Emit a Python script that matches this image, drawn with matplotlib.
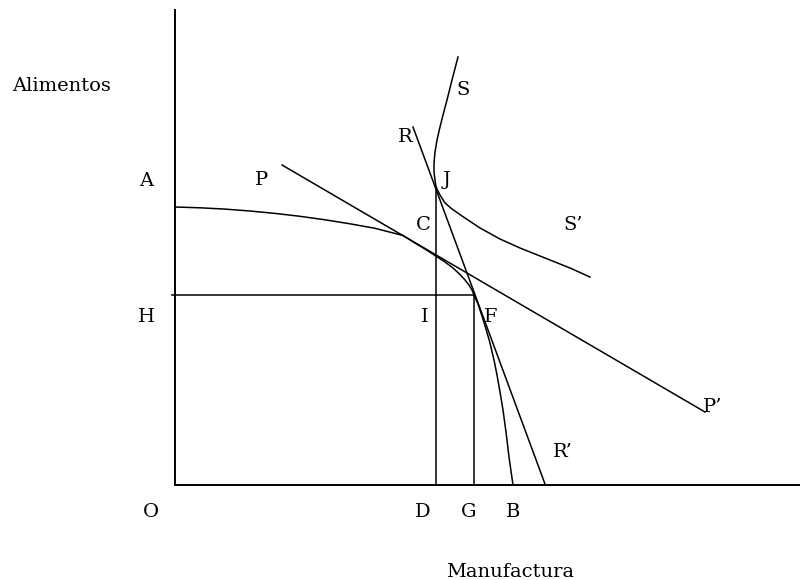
"""
Frontera de produccion, lineas de precios y curva de oferta
"""

import matplotlib.pyplot as plt

# curva de transformacion A-B (manufactura, alimentos)
ppf_x = [0, 2.5, 5.0, 7.5, 10.0, 12.5, 15.0, 17.5, 20.0, 22.8, 24.0, 25.0,
         26.0, 27.0, 27.8, 28.5, 29.0, 29.4, 29.7, 29.9, 30.3, 30.7, 31.1,
         31.5, 31.9, 32.2, 32.5, 32.8, 33.1, 33.4, 33.8]
ppf_y = [27.8, 27.72, 27.59, 27.4, 27.16, 26.87, 26.52, 26.12, 25.67, 24.95,
         24.2, 23.6, 22.95, 22.3, 21.7, 21.05, 20.5, 20.0, 19.5, 19.0, 18.1,
         16.9, 15.6, 14.2, 12.5, 11.0, 9.3, 7.5, 5.3, 2.8, 0]

# recta de precios P-P'
pp_x = [10.7, 53.0]
pp_y = [32.0, 7.3]

# recta de precios R-R'
rr_x = [23.8, 37.0]
rr_y = [35.8, 0.1]

# curva S (hasta J) y S'
s_x = [28.3, 27.7, 27.2, 26.8, 26.5, 26.2, 26.0, 25.9, 25.9, 26.0, 26.1]
s_y = [42.8, 40.5, 38.5, 37.0, 35.8, 34.5, 33.3, 32.2, 31.3, 30.5, 29.8]
s2_x = [26.1, 26.5, 27.0, 27.7, 28.7, 30.5, 32.5, 34.5, 37.0, 39.5, 41.5]
s2_y = [29.8, 29.0, 28.2, 27.6, 26.9, 25.7, 24.6, 23.7, 22.7, 21.7, 20.8]

# puntos J y F
j_x, j_y = 26.1, 29.8
f_x, f_y = 29.9, 19.0

# etiquetas (texto, x, y de la linea base)
labels = [
    ("Alimentos", -11.3, 39.4),
    ("S", 28.8, 39.0),
    ("R", 23.0, 34.3),
    ("A", -2.9, 29.9),
    ("P", 8.7, 30.0),
    ("J", 27.2, 30.0),
    ("C", 24.8, 25.5),
    ("S\u2019", 39.8, 25.5),
    ("H", -2.9, 16.3),
    ("I", 25.0, 16.3),
    ("F", 31.6, 16.3),
    ("P\u2019", 53.8, 7.3),
    ("R\u2019", 38.8, 2.8),
    ("O", -2.4, -3.2),
    ("D", 24.8, -3.2),
    ("G", 29.4, -3.2),
    ("B", 33.8, -3.2),
    ("Manufactura", 33.5, -9.2),
]

plt.rcParams['font.family'] = ['DejaVu Serif']

fig = plt.figure(figsize=(8, 5.8), dpi=100)
ax = fig.add_axes([0, 0, 1, 1])
ax.set_xlim(-17.5, 62.5)
ax.set_ylim(-9.5, 48.5)
ax.axis("off")

lw = 1.1
# ejes
ax.plot([0, 0], [0, 47.5], color="black", lw=1.4)
ax.plot([0, 62.5], [0, 0], color="black", lw=1.4)

# curvas
ax.plot(ppf_x, ppf_y, color="black", lw=lw)
ax.plot(pp_x, pp_y, color="black", lw=lw)
ax.plot(rr_x, rr_y, color="black", lw=lw)
ax.plot(s_x, s_y, color="black", lw=lw)
ax.plot(s2_x, s2_y, color="black", lw=lw)

# lineas de referencia
ax.plot([j_x, j_x], [0, j_y], color="black", lw=lw)
ax.plot([f_x, f_x], [0, f_y], color="black", lw=lw)
ax.plot([-0.3, f_x], [f_y, f_y], color="black", lw=lw)

for txt, x, y in labels:
    ax.text(x, y, txt, ha="center", va="baseline", fontsize=14)

fig.savefig("out.png", dpi=100)
